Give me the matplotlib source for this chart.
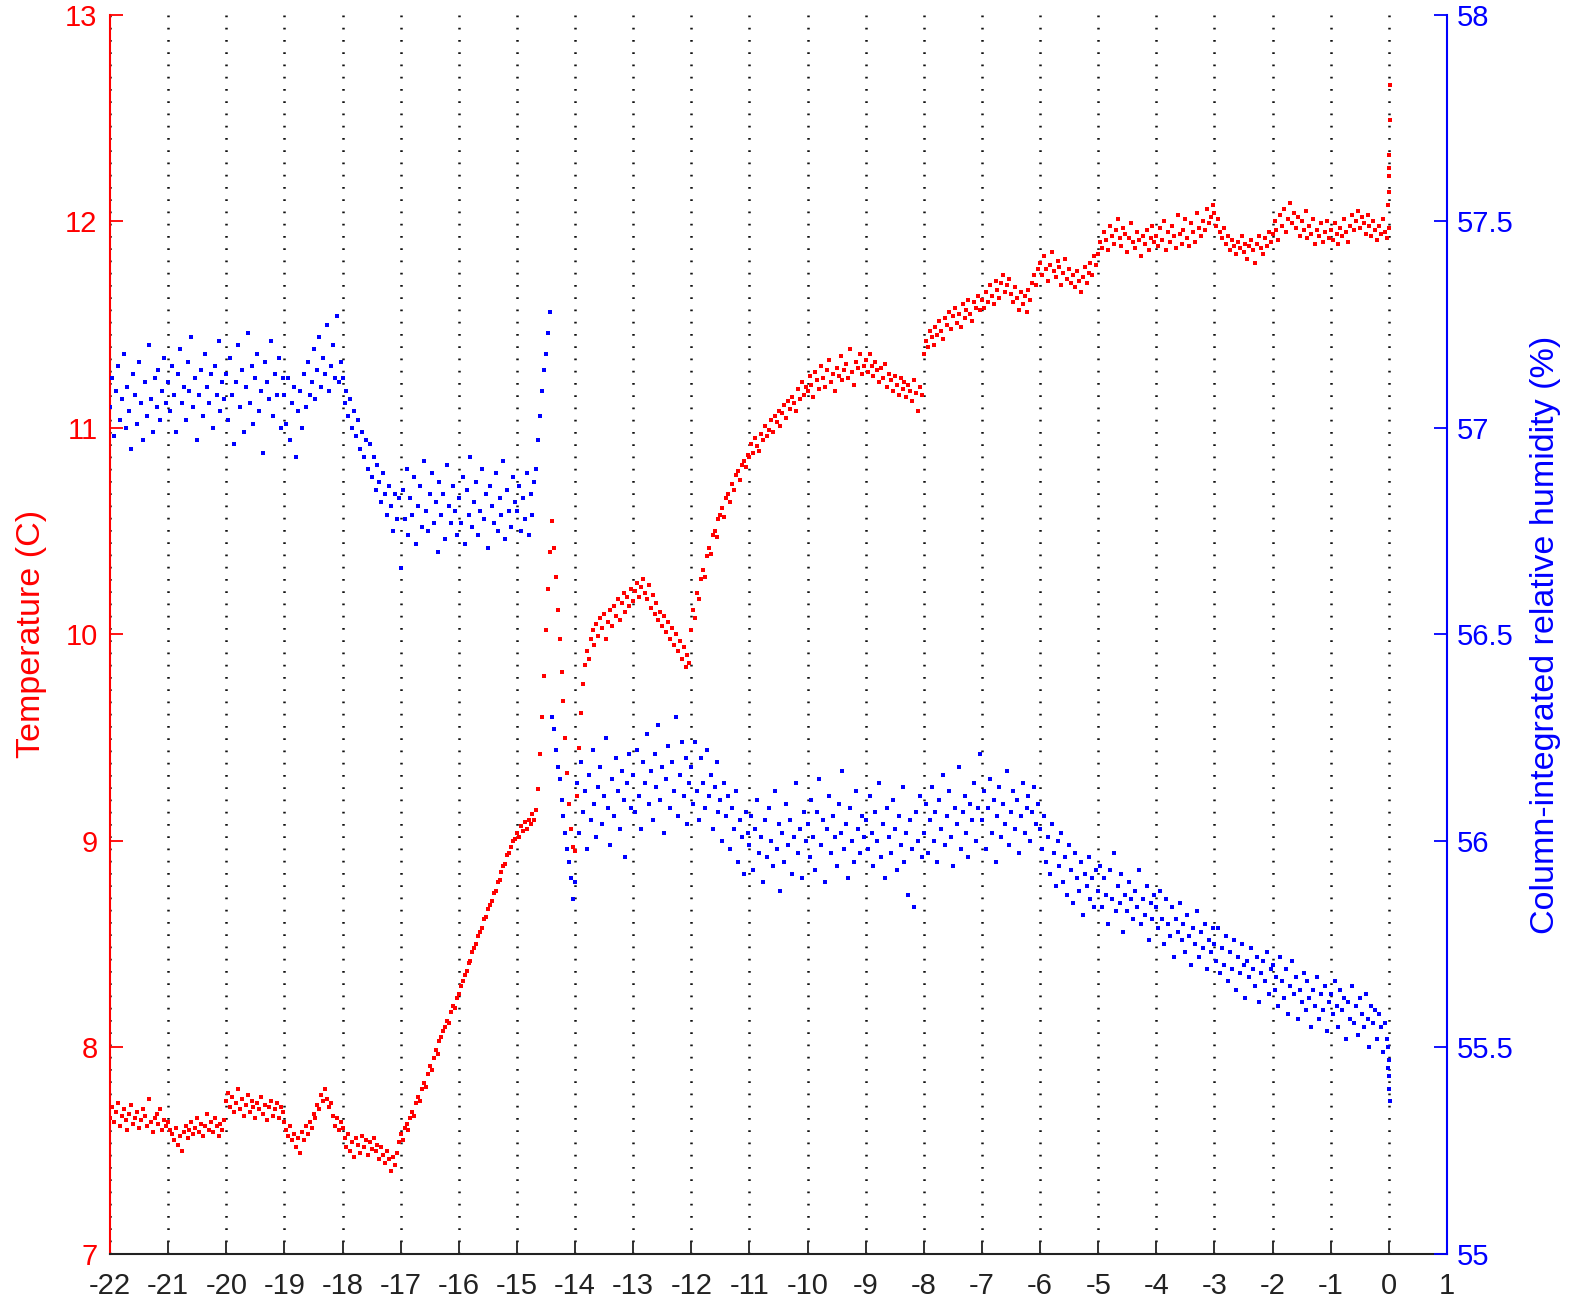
import matplotlib
matplotlib.use("Agg")
import matplotlib.pyplot as plt
import numpy as np

# 2-minute samples, hours before the event
STEP_H = 1.0 / 30.0

# temperature (C), blocks of hourly rows
temp_a_start = -22
temp_a = [
    7.66, 7.71, 7.64, 7.69, 7.73, 7.62, 7.67, 7.70, 7.65, 7.60, 7.68, 7.72, 7.63, 7.66, 7.69,
    7.61, 7.65, 7.70, 7.67, 7.62, 7.75, 7.64, 7.59, 7.66, 7.68, 7.63, 7.70, 7.60, 7.65, 7.62,
    7.64, 7.60, 7.58, 7.55, 7.61, 7.53, 7.57, 7.50, 7.59, 7.62, 7.56, 7.60, 7.64, 7.58, 7.61,
    7.66, 7.59, 7.63, 7.57, 7.62, 7.68, 7.60, 7.64, 7.59, 7.66, 7.62, 7.57, 7.63, 7.60, 7.65,
    7.74, 7.78, 7.71, 7.76, 7.69, 7.73, 7.80, 7.70, 7.75, 7.67, 7.72, 7.77, 7.69, 7.74, 7.71,
    7.66, 7.73, 7.70, 7.76, 7.68, 7.72, 7.65, 7.71, 7.74, 7.67, 7.70, 7.73, 7.66, 7.71, 7.69,
    7.64, 7.60, 7.57, 7.62, 7.55, 7.58, 7.52, 7.56, 7.49, 7.59, 7.55, 7.62, 7.58, 7.64, 7.61,
    7.68, 7.66, 7.72, 7.70, 7.77, 7.74, 7.80, 7.75, 7.71, 7.73, 7.67, 7.62, 7.66, 7.60, 7.64,
    7.61, 7.56, 7.52, 7.58, 7.50, 7.54, 7.47, 7.56, 7.53, 7.49, 7.57, 7.52, 7.55, 7.48, 7.54,
    7.51, 7.56, 7.50, 7.53, 7.46, 7.52, 7.48, 7.44, 7.50, 7.46, 7.40, 7.47, 7.43, 7.49, 7.54,
]
temp_b_start = -17
temp_b = [
    7.58, 7.55, 7.61, 7.63, 7.60, 7.66, 7.69, 7.67, 7.73, 7.76, 7.74, 7.80, 7.83, 7.81, 7.87,
    7.91, 7.89, 7.95, 7.99, 7.97, 8.03, 8.05, 8.08, 8.10, 8.13, 8.12, 8.17, 8.20, 8.19, 8.24,
    8.26, 8.30, 8.32, 8.35, 8.37, 8.41, 8.42, 8.46, 8.48, 8.50, 8.54, 8.56, 8.58, 8.62, 8.63,
    8.67, 8.69, 8.71, 8.75, 8.76, 8.80, 8.81, 8.85, 8.88, 8.89, 8.93, 8.94, 8.97, 9.00, 9.01,
    9.04, 9.02, 9.07, 9.05, 9.09, 9.06, 9.10, 9.08, 9.13, 9.10, 9.15, 9.25, 9.42, 9.60, 9.80,
    10.02, 10.22, 10.40, 10.55, 10.42, 10.28, 10.12, 9.98, 9.82, 9.68, 9.50, 9.33, 9.18, 9.06, 8.97,
]
temp_c_start = -14
temp_c = [
    8.95, 9.22, 9.45, 9.62, 9.76, 9.85, 9.92, 9.88, 9.98, 10.02, 9.95, 10.05, 9.99, 10.08, 10.03,
    10.10, 9.98, 10.06, 10.12, 10.04, 10.14, 10.09, 10.17, 10.07, 10.15, 10.20, 10.11, 10.18, 10.14, 10.22,
    10.16, 10.21, 10.25, 10.18, 10.23, 10.27, 10.20, 10.17, 10.24, 10.13, 10.19, 10.10, 10.15, 10.07, 10.11,
    10.04, 10.09, 10.01, 10.06, 9.98, 10.03, 9.95, 10.00, 9.92, 9.97, 9.88, 9.94, 9.84, 9.90, 9.86,
    10.02, 10.12, 10.08, 10.20, 10.17, 10.27, 10.31, 10.28, 10.38, 10.42, 10.39, 10.48, 10.50, 10.47, 10.56,
    10.58, 10.61, 10.57, 10.66, 10.68, 10.64, 10.73, 10.70, 10.77, 10.79, 10.75, 10.82, 10.84, 10.81, 10.87,
    10.86, 10.92, 10.88, 10.95, 10.91, 10.89, 10.97, 10.94, 11.01, 10.96, 10.99, 11.04, 10.98, 11.06, 11.03,
    11.08, 11.01, 11.07, 11.11, 11.05, 11.13, 11.09, 11.15, 11.12, 11.08, 11.19, 11.14, 11.22, 11.16, 11.20,
    11.18, 11.25, 11.21, 11.15, 11.27, 11.23, 11.19, 11.30, 11.24, 11.20, 11.28, 11.33, 11.22, 11.26, 11.18,
    11.29, 11.25, 11.35, 11.23, 11.28, 11.31, 11.24, 11.38, 11.27, 11.21, 11.32, 11.29, 11.36, 11.26, 11.30,
    11.33, 11.27, 11.36, 11.30, 11.25, 11.32, 11.28, 11.22, 11.29, 11.24, 11.31, 11.20, 11.26, 11.23, 11.18,
    11.25, 11.21, 11.16, 11.24, 11.19, 11.22, 11.15, 11.21, 11.18, 11.13, 11.23, 11.17, 11.08, 11.20, 11.16,
]
temp_d_start = -8
temp_d = [
    11.36, 11.42, 11.39, 11.47, 11.44, 11.40, 11.49, 11.45, 11.52, 11.47, 11.43, 11.53, 11.50, 11.56, 11.48,
    11.54, 11.58, 11.51, 11.55, 11.49, 11.60, 11.53, 11.57, 11.62, 11.55, 11.52, 11.61, 11.58, 11.64, 11.57,
    11.62, 11.58, 11.66, 11.61, 11.69, 11.64, 11.60, 11.71, 11.67, 11.63, 11.70, 11.74, 11.66, 11.69, 11.72,
    11.65, 11.61, 11.68, 11.63, 11.57, 11.66, 11.60, 11.64, 11.56, 11.67, 11.62, 11.70, 11.74, 11.69, 11.77,
    11.80, 11.74, 11.83, 11.77, 11.71, 11.79, 11.85, 11.76, 11.73, 11.81, 11.78, 11.69, 11.75, 11.82, 11.72,
    11.77, 11.70, 11.74, 11.68, 11.76, 11.71, 11.66, 11.73, 11.78, 11.70, 11.75, 11.80, 11.74, 11.83, 11.79,
    11.84, 11.90, 11.87, 11.95, 11.91, 11.86, 11.98, 11.93, 11.89, 11.96, 12.01, 11.92, 11.88, 11.97, 11.94,
    11.85, 11.92, 11.99, 11.90, 11.87, 11.95, 11.91, 11.83, 11.93, 11.89, 11.96, 11.86, 11.92, 11.98, 11.90,
    11.93, 11.88, 11.97, 11.91, 12.00, 11.86, 11.95, 11.90, 11.98, 11.93, 11.87, 12.03, 11.94, 11.89, 11.96,
    12.01, 11.92, 11.88, 11.99, 11.95, 11.90, 12.04, 11.97, 11.93, 12.00, 11.96, 12.06, 11.99, 12.02, 12.08,
    12.04, 11.98, 12.01, 11.95, 11.92, 11.97, 11.89, 11.93, 11.86, 11.91, 11.88, 11.84, 11.90, 11.87, 11.93,
    11.85, 11.89, 11.82, 11.88, 11.91, 11.86, 11.80, 11.89, 11.93, 11.87, 11.84, 11.92, 11.88, 11.95, 11.90,
    11.94, 12.00, 11.96, 11.91, 12.03, 11.98, 12.06, 11.95, 12.01, 12.09, 11.99, 12.04, 11.97, 12.02, 11.93,
    12.00, 11.96, 12.05, 11.92, 11.98, 11.94, 12.01, 11.89, 11.96, 11.93, 11.99, 11.90, 11.95, 12.00, 11.92,
    11.96, 11.91, 11.99, 11.94, 11.89, 11.97, 11.93, 12.01, 11.95, 11.90, 11.98, 12.03, 11.96, 12.00, 12.05,
    11.97, 12.02, 11.99, 11.94, 12.03, 11.98, 11.93, 12.00, 11.96, 11.91, 11.98, 11.94, 12.01, 11.95, 11.92,
    11.97,
]
# last readings, logged faster around t = 0
temp_end_t = [-0.01, 0.0, 0.0, 0.01, 0.01, 0.02, 0.02]
temp_end = [12.08, 12.14, 12.22, 12.26, 12.32, 12.49, 12.66]

# column-integrated relative humidity (%)
rh_a_start = -22
rh_a = [
    57.05, 57.12, 56.98, 57.09, 57.15, 57.02, 57.07, 57.18, 57.00, 57.10, 57.04, 56.95, 57.13, 57.08, 57.01,
    57.16, 57.06, 56.97, 57.11, 57.03, 57.20, 57.07, 56.99, 57.12, 57.05, 57.14, 57.02, 57.09, 57.17, 57.06,
    57.11, 57.04, 57.15, 57.08, 56.99, 57.13, 57.19, 57.06, 57.10, 57.02, 57.16, 57.09, 57.22, 57.05, 57.12,
    56.97, 57.08, 57.14, 57.03, 57.18, 57.10, 57.06, 57.13, 57.00, 57.15, 57.08, 57.21, 57.04, 57.11, 57.07,
    57.13, 57.02, 57.17, 57.08, 56.96, 57.11, 57.20, 57.05, 57.14, 56.99, 57.10, 57.23, 57.06, 57.15, 57.01,
    57.12, 57.18, 57.04, 57.09, 56.94, 57.16, 57.11, 57.07, 57.21, 57.03, 57.13, 57.08, 57.17, 57.00, 57.12,
    57.08, 57.01, 57.12, 56.97, 57.06, 57.10, 56.93, 57.04, 57.09, 57.00, 57.13, 57.05, 57.16, 57.08, 57.11,
    57.19, 57.07, 57.14, 57.22, 57.10, 57.17, 57.13, 57.25, 57.09, 57.15, 57.20, 57.12, 57.27, 57.11, 57.16,
    57.12, 57.06, 57.09, 57.03, 57.07, 57.00, 57.04, 56.98, 57.02, 56.95, 56.99, 56.93, 56.97, 56.90, 56.96,
    56.88, 56.93, 56.85, 56.91, 56.87, 56.82, 56.89, 56.84, 56.79, 56.86, 56.81, 56.75, 56.84, 56.78, 56.83,
]
rh_b_start = -17
rh_b = [
    56.66, 56.85, 56.78, 56.90, 56.74, 56.83, 56.79, 56.88, 56.72, 56.81, 56.86, 56.76, 56.92, 56.80, 56.75,
    56.84, 56.89, 56.77, 56.82, 56.70, 56.87, 56.79, 56.84, 56.73, 56.91, 56.81, 56.77, 56.86, 56.80, 56.74,
    56.83, 56.77, 56.88, 56.72, 56.85, 56.79, 56.93, 56.76, 56.82, 56.87, 56.74, 56.80, 56.90, 56.78, 56.84,
    56.71, 56.86, 56.81, 56.77, 56.89, 56.75, 56.83, 56.79, 56.92, 56.73, 56.85, 56.80, 56.76, 56.88, 56.82,
    56.80, 56.86, 56.75, 56.83, 56.78, 56.89, 56.74, 56.84, 56.79, 56.87, 56.90, 56.97, 57.03, 57.09, 57.14,
    57.18, 57.23, 57.28, 56.30, 56.27, 56.22, 56.18, 56.15, 56.10, 56.06, 56.02, 55.98, 55.95, 55.91, 55.86,
]
rh_c_start = -14
rh_c = [
    55.90, 56.14, 56.02, 56.19, 56.07, 56.12, 55.98, 56.16, 56.05, 56.22, 56.09, 56.01, 56.13, 56.18, 56.04,
    56.11, 56.25, 56.08, 55.99, 56.15, 56.06, 56.20, 56.12, 56.03, 56.17, 56.10, 55.96, 56.14, 56.21, 56.08,
    56.16, 56.07, 56.22, 56.11, 56.03, 56.19, 56.14, 56.26, 56.09, 56.17, 56.05, 56.21, 56.13, 56.28, 56.10,
    56.18, 56.02, 56.15, 56.23, 56.08, 56.19, 56.12, 56.30, 56.06, 56.16, 56.24, 56.11, 56.20, 56.04, 56.14,
    56.18, 56.09, 56.24, 56.12, 56.05, 56.20, 56.14, 56.08, 56.22, 56.11, 56.16, 56.03, 56.13, 56.19, 56.07,
    56.10, 56.00, 56.14, 56.06, 56.11, 55.98, 56.08, 56.03, 56.12, 55.95, 56.05, 56.01, 55.92, 56.07, 56.02,
    55.99, 56.06, 55.93, 56.03, 56.10, 55.97, 56.01, 55.90, 56.05, 55.96, 56.08, 56.00, 55.94, 56.12, 55.98,
    56.04, 55.88, 56.02, 55.95, 56.09, 55.99, 56.05, 55.92, 56.01, 56.14, 55.97, 56.03, 55.91, 56.07, 56.00,
    56.04, 55.96, 56.10, 56.01, 55.93, 56.07, 56.15, 55.99, 56.05, 55.90, 56.03, 56.11, 55.97, 56.06, 56.01,
    55.94, 56.09, 56.02, 56.17, 55.98, 56.04, 55.91, 56.08, 56.00, 55.95, 56.12, 56.03, 55.97, 56.06, 56.01,
    56.05, 55.98, 56.11, 56.02, 55.94, 56.07, 56.00, 56.14, 55.96, 56.04, 55.91, 56.08, 56.01, 55.97, 56.10,
    56.03, 55.93, 56.06, 55.99, 56.13, 55.95, 56.02, 55.87, 56.05, 55.98, 55.84, 56.07, 56.00, 56.11, 55.96,
]
rh_d_start = -8
rh_d = [
    56.02, 56.09, 55.97, 56.05, 56.13, 56.00, 56.07, 55.95, 56.10, 56.03, 56.16, 55.99, 56.06, 56.12, 56.01,
    55.94, 56.08, 56.04, 56.18, 55.98, 56.07, 56.11, 56.02, 55.96, 56.09, 56.05, 56.14, 56.00, 56.08, 56.21,
    56.05, 56.12, 55.98, 56.08, 56.15, 56.02, 56.10, 55.95, 56.06, 56.13, 56.01, 56.09, 56.04, 56.17, 55.99,
    56.07, 56.12, 56.03, 56.10, 55.97, 56.06, 56.14, 56.02, 56.08, 56.11, 56.00, 56.07, 56.13, 56.04, 56.09,
    56.03, 55.98, 56.06, 55.95, 56.01, 55.92, 56.04, 55.97, 55.89, 56.00, 55.94, 56.02, 55.90, 55.96, 55.87,
    55.99, 55.93, 55.85, 55.97, 55.91, 55.88, 55.95, 55.82, 55.92, 55.89, 55.96, 55.86, 55.91, 55.84, 55.93,
    55.88, 55.94, 55.84, 55.91, 55.87, 55.80, 55.93, 55.86, 55.97, 55.83, 55.89, 55.85, 55.92, 55.78, 55.87,
    55.83, 55.90, 55.86, 55.81, 55.88, 55.84, 55.93, 55.80, 55.86, 55.82, 55.89, 55.76, 55.85, 55.81, 55.87,
    55.84, 55.79, 55.88, 55.81, 55.75, 55.86, 55.80, 55.77, 55.84, 55.72, 55.81, 55.78, 55.85, 55.76, 55.80,
    55.73, 55.82, 55.77, 55.70, 55.79, 55.75, 55.83, 55.72, 55.78, 55.74, 55.80, 55.69, 55.76, 55.73, 55.79,
    55.75, 55.71, 55.79, 55.68, 55.74, 55.70, 55.77, 55.66, 55.73, 55.69, 55.76, 55.64, 55.72, 55.68, 55.75,
    55.70, 55.62, 55.71, 55.67, 55.74, 55.69, 55.65, 55.72, 55.61, 55.68, 55.71, 55.66, 55.73, 55.63, 55.69,
    55.70, 55.64, 55.67, 55.60, 55.72, 55.66, 55.62, 55.69, 55.58, 55.65, 55.71, 55.63, 55.67, 55.57, 55.64,
    55.61, 55.68, 55.59, 55.66, 55.62, 55.55, 55.64, 55.60, 55.67, 55.57, 55.63, 55.59, 55.65, 55.54, 55.61,
    55.63, 55.58, 55.66, 55.60, 55.55, 55.64, 55.59, 55.62, 55.52, 55.61, 55.57, 55.65, 55.56, 55.60, 55.53,
    55.62, 55.58, 55.55, 55.63, 55.57, 55.50, 55.60, 55.56, 55.59, 55.52, 55.58, 55.55, 55.49, 55.56, 55.52,
    55.47,
]
rh_end_t = [-0.02, -0.01, 0.0, 0.01, 0.02]
rh_end = [55.45, 55.50, 55.43, 55.40, 55.37]

x_ticks = list(range(-22, 2))
temp_ticks = [7, 8, 9, 10, 11, 12, 13]
rh_ticks = [55, 55.5, 56, 56.5, 57, 57.5, 58]


def series(blocks, end_t, end_v):
    """Stitch sampled blocks (start hour, values) into one time series."""
    ts, vs = [], []
    for start, vals in blocks:
        vals = np.asarray(vals, dtype=float)
        ts.append(start + np.arange(len(vals)) * STEP_H)
        vs.append(vals)
    ts.append(np.asarray(end_t, dtype=float))
    vs.append(np.asarray(end_v, dtype=float))
    return np.concatenate(ts), np.concatenate(vs)


t_temp, temp = series([(temp_a_start, temp_a), (temp_b_start, temp_b),
                       (temp_c_start, temp_c), (temp_d_start, temp_d)],
                      temp_end_t, temp_end)
t_rh, rh = series([(rh_a_start, rh_a), (rh_b_start, rh_b),
                   (rh_c_start, rh_c), (rh_d_start, rh_d)],
                  rh_end_t, rh_end)

plt.rcParams["font.family"] = ["Liberation Sans", "DejaVu Sans"]

RED = "#ff0000"
BLUE = "#0000ff"

fig = plt.figure(figsize=(15.79, 13.03), dpi=100)
ax = fig.add_axes([0.0697, 0.0376, 0.8467, 0.951])
ax2 = ax.twinx()

ax.plot(t_temp, temp, linestyle="none", marker="s", ms=2.2, mew=0, color=RED)
ax2.plot(t_rh, rh, linestyle="none", marker="s", ms=2.2, mew=0, color=BLUE)

ax.set_xlim(-22, 1)
ax.set_ylim(7, 13)
ax2.set_ylim(55, 58)
ax.set_xticks(x_ticks)
ax.set_xticklabels([str(v) for v in x_ticks])
ax.set_yticks(temp_ticks)
ax.set_yticklabels([str(v) for v in temp_ticks])
ax2.set_yticks(rh_ticks)
ax2.set_yticklabels([f"{v:g}" for v in rh_ticks])

# dotted vertical grid
ax.xaxis.grid(True, linestyle=(0, (0.7, 4.2)), linewidth=1.8, color="#111111")
ax.yaxis.grid(False)

for s in ("top", "right"):
    ax.spines[s].set_visible(False)
for s in ("top", "left", "bottom"):
    ax2.spines[s].set_visible(False)
ax.spines["left"].set_color(RED)
ax.spines["left"].set_linewidth(1.5)
ax.spines["bottom"].set_color("#222222")
ax.spines["bottom"].set_linewidth(1.5)
ax2.spines["right"].set_color(BLUE)
ax2.spines["right"].set_linewidth(1.5)

ax.tick_params(axis="x", direction="in", length=9.5, width=1.3, colors="#222222",
               labelsize=21, pad=13)
ax.tick_params(axis="y", direction="in", length=9.5, width=1.3, colors=RED,
               labelsize=21, pad=9)
ax2.tick_params(axis="y", direction="in", length=9.5, width=1.3, colors=BLUE,
                labelsize=21, pad=7)

ax.set_ylabel("Temperature (C)", color=RED, fontsize=24.5)
ax.yaxis.set_label_coords(-0.047, 0.5)
ax2.set_ylabel("Column-integrated relative humidity (%)", color=BLUE, fontsize=24.5)
ax2.yaxis.set_label_coords(1.062, 0.5)

fig.savefig("out.png", dpi=100)
